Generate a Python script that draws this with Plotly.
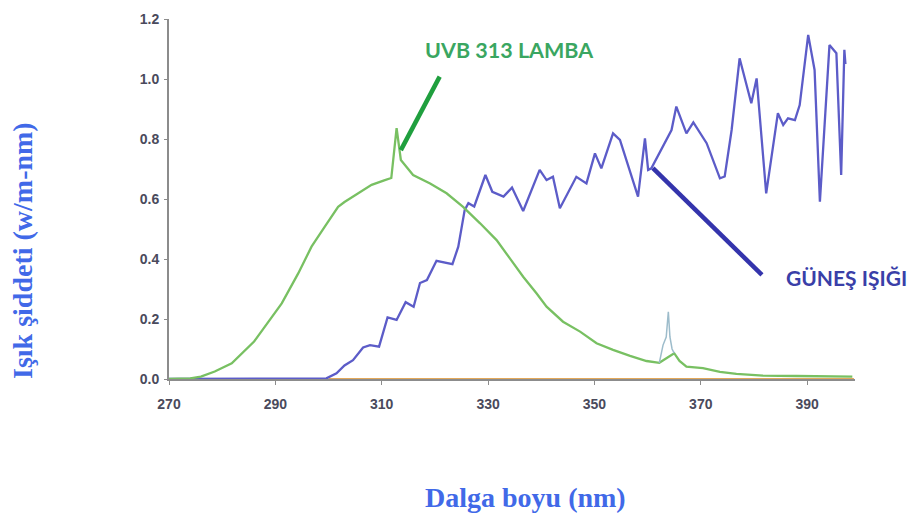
import plotly.graph_objects as go

# UVB 313 lamp spectrum
lamp_nm = [270, 274, 276, 278.6, 281.8, 284.9, 286, 288, 291.2, 294.3, 296.8, 299.3,
           301.8, 303, 305.6, 308.1, 310.6, 311.8, 312.8, 313.6, 315.9, 319.1, 322.2,
           325.3, 328.5, 331.6, 334.1, 336.6, 339.1, 341, 344.1, 347.3, 350.4, 353.5,
           356.7, 359.8, 362.2, 365, 366, 367.3, 370.4, 373.6, 376.7, 381.7, 388, 398.5]
lamp_val = [0, 0.002, 0.008, 0.025, 0.052, 0.108, 0.125, 0.174, 0.252, 0.352, 0.441, 0.508,
            0.574, 0.59, 0.619, 0.647, 0.663, 0.67, 0.836, 0.73, 0.68, 0.652, 0.619,
            0.574, 0.519, 0.463, 0.402, 0.341, 0.286, 0.241, 0.191, 0.158, 0.119, 0.097,
            0.077, 0.06, 0.054, 0.086, 0.06, 0.041, 0.036, 0.024, 0.017, 0.011, 0.01, 0.008]

# small emission spike near 364 nm
spike_nm = [362.2, 362.9, 363.5, 363.9, 364.2, 364.6, 365.0]
spike_val = [0.054, 0.113, 0.14, 0.224, 0.14, 0.10, 0.086]

# Sunlight spectrum
sun_nm = [270, 298, 299.6, 301.5, 303, 304.6, 306.5, 307.8, 309.5, 311.1, 312.8, 314.5,
          316.0, 317.2, 318.5, 320.3, 321.5, 323.3, 324.4, 325.6, 326.3, 327.4, 329.5,
          330.8, 332.9, 334.5, 336.6, 339.7, 341, 342.2, 343.5, 346.6, 348.5, 350.1,
          351.3, 353.5, 354.8, 358.2, 359.5, 360.1, 360.7, 362.9, 364.5, 365.4, 367.3,
          368.6, 371.1, 373.6, 374.5, 375.8, 377.3, 379.5, 380.5, 382.3, 384.5, 385.5,
          386.4, 387.7, 388.6, 390.2, 391.4, 392.4, 394.2, 395.5, 396.4, 397.0, 397.2]
sun_val = [0, 0, 0.002, 0.019, 0.045, 0.063, 0.105, 0.113, 0.108, 0.205, 0.197, 0.256,
           0.241, 0.32, 0.33, 0.394, 0.39, 0.383, 0.441, 0.563, 0.586, 0.575, 0.68,
           0.624, 0.608, 0.638, 0.56, 0.697, 0.663, 0.674, 0.569, 0.674, 0.652, 0.752,
           0.702, 0.819, 0.797, 0.608, 0.802, 0.697, 0.702, 0.774, 0.83, 0.908, 0.819,
           0.855, 0.786, 0.669, 0.675, 0.83, 1.069, 0.919, 1.002, 0.619, 0.886, 0.847,
           0.869, 0.863, 0.913, 1.147, 1.03, 0.591, 1.113, 1.086, 0.68, 1.097, 1.05]

# zero baseline series
base_nm = [300, 398.8]
base_val = [0, 0]

x_ticks = [270, 290, 310, 330, 350, 370, 390]
y_ticks = [0.0, 0.2, 0.4, 0.6, 0.8, 1.0, 1.2]

W, H = 914, 513
PL, PR, PT, PB = 169, 855, 19, 379  # plot area in page pixels


def px(xw, yw):
    """page pixel -> paper coords"""
    return (xw - PL) / (PR - PL), (PB - yw) / (PB - PT)


fig = go.Figure()
fig.add_trace(go.Scatter(x=base_nm, y=base_val, mode="lines",
                         line=dict(color="#e2a85a", width=2), hoverinfo="skip"))
fig.add_trace(go.Scatter(x=sun_nm, y=sun_val, mode="lines", name="GÜNEŞ IŞIĞI",
                         line=dict(color="#5c5cc8", width=2.3)))
fig.add_trace(go.Scatter(x=lamp_nm, y=lamp_val, mode="lines", name="UVB 313 LAMBA",
                         line=dict(color="#78c062", width=2.3)))
fig.add_trace(go.Scatter(x=spike_nm, y=spike_val, mode="lines",
                         line=dict(color="#9dbccb", width=1.5), hoverinfo="skip"))

tickfont = dict(family="Liberation Sans, Arial", size=14, color="#4a4a5c")

fig.update_layout(
    width=W, height=H,
    margin=dict(l=PL, r=W - PR, t=PT, b=H - PB, autoexpand=False),
    paper_bgcolor="white", plot_bgcolor="white",
    showlegend=False,
    xaxis=dict(range=[270, 399], tickvals=x_ticks, ticktext=["<b>%d</b>" % v for v in x_ticks],
               showgrid=False, zeroline=False, showline=True, linecolor="#8c8c8c",
               linewidth=2, ticks="outside", ticklen=4, tickcolor="#8c8c8c",
               tickfont=tickfont, ticklabelstandoff=7, automargin=False),
    yaxis=dict(range=[0, 1.2], tickvals=y_ticks, ticktext=["<b>%.1f</b>" % v for v in y_ticks],
               showgrid=False, zeroline=False, showline=True, linecolor="#8c8c8c",
               linewidth=2, ticks="outside", ticklen=3, tickcolor="#8c8c8c",
               tickfont=tickfont, ticklabelstandoff=2, automargin=False),
    font=dict(family="Liberation Sans, Arial"),
)

title_font = dict(family="Liberation Serif, Times New Roman", size=28, color="#4169e8")
ax, ay = px(23, 251)
fig.add_annotation(text="<b>Işık şiddeti (w/m-nm)</b>", xref="paper", yref="paper",
                   x=ax, y=ay, textangle=-90, showarrow=False, font=title_font,
                   xanchor="center", yanchor="middle")
ax, ay = px(525, 497)
fig.add_annotation(text="<b>Dalga boyu (nm)</b>", xref="paper", yref="paper",
                   x=ax, y=ay, showarrow=False, font=title_font,
                   xanchor="center", yanchor="middle")

label_font_g = dict(family="Lato, Open Sans", size=21.5, color="#3aa661")
label_font_b = dict(family="Lato, Open Sans", size=21, color="#3a3fa8")
ax, ay = px(509, 50)
fig.add_annotation(text="<b>UVB 313 LAMBA</b>", xref="paper", yref="paper",
                   x=ax, y=ay, showarrow=False,
                   font=label_font_g, xanchor="center", yanchor="middle")
ax, ay = px(846, 277)
fig.add_annotation(text="<b>GÜNEŞ IŞIĞI</b>", xref="paper", yref="paper",
                   x=ax, y=ay, showarrow=False,
                   font=label_font_b, xanchor="center", yanchor="middle")

fig.add_shape(type="line", xref="x", yref="y", x0=320.9, y0=1.008, x1=313.6, y1=0.763,
              line=dict(color="#1f9f3e", width=4.5))
fig.add_shape(type="line", xref="x", yref="y", x0=361.0, y0=0.703, x1=381.5, y1=0.347,
              line=dict(color="#3434ac", width=4.5))

fig.write_html("out.html",
               config={"displayModeBar": False},
               post_script="document.body.style.margin='0';"
                           "document.body.style.overflow='hidden';")
